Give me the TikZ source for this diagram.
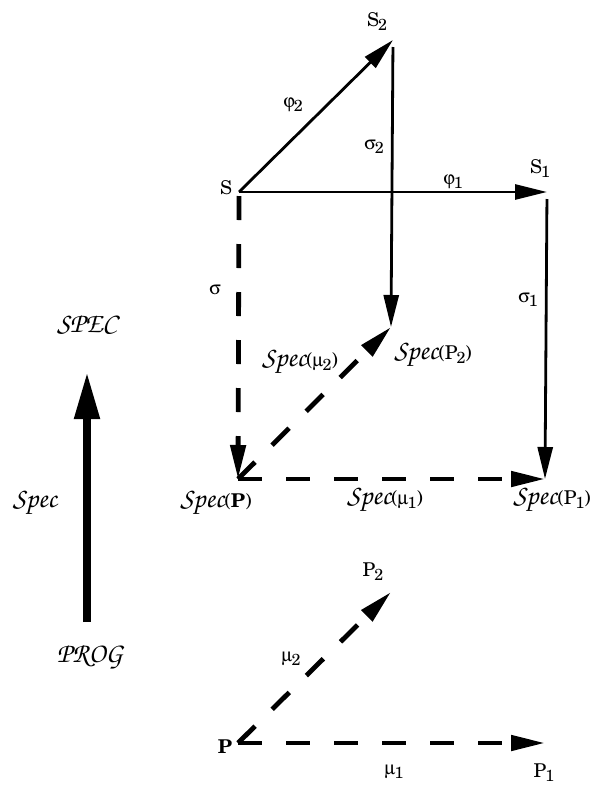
\documentclass[tikz,border=0pt]{standalone}
\usepackage[TU,T1]{fontenc}
\renewcommand{\rmdefault}{pnc}
\usepackage[Symbol]{upgreek}
\usepackage{tikz}
\usetikzlibrary{positioning, arrows.meta}
\newcommand{\chan}[1]{{\fontfamily{pzc}\fontseries{mb}\fontshape{it}\fontsize{28}{30}\selectfont #1}}
\newcommand{\sub}[1]{\kern-1pt\raisebox{-0.45ex}{\fontsize{16}{16}\selectfont #1}}

\begin{document}
\begin{tikzpicture}[x=1pt,y=-1pt,
  lbl/.style={font=\fontsize{19}{24}\selectfont,inner sep=0pt},
  arr/.style={line width=2.8pt,-{Triangle[length=32pt,width=15pt]}},
  darr/.style={line width=4.8pt,dash pattern=on 24pt off 24pt,
               -{Triangle[length=34pt,width=15pt]}},
  fat/.style={line width=8pt,-{Triangle[length=47pt,width=24pt]}},
  >=Stealth]
  \useasboundingbox (0,0) rectangle (596,785);
  % specification square
  \coordinate (S) at (239,192);
  \coordinate (S1) at (547,192);
  \coordinate (S2) at (393,40);
  \coordinate (SP) at (238,479);
  \coordinate (SP1) at (545,479);
  \coordinate (SP2) at (391,327);
  % program level
  \coordinate (P) at (238,743);
  \coordinate (P1) at (545,743);
  \coordinate (P2) at (391,592);
  % the Spec functor
  \coordinate (prog) at (87,622);
  \coordinate (spec) at (87,372);

  \node[lbl] (lS) at (226,188) {S};
  \node[lbl] (lS1) at (540,169) {S\sub{1}};
  \node[lbl] (lS2) at (377,22) {S\sub{2}};
  \node[lbl] (lSP) at (216,503) {\chan{Spec}(\textbf{P})};
  \node[lbl] (lSP1) at (552,500) {\chan{Spec}(P\sub{1})};
  \node[lbl] (lSP2) at (433,355) {\chan{Spec}(P\sub{2})};
  \node[lbl] (lP) at (225,747) {\textbf{P}};
  \node[lbl] (lP1) at (544,773) {P\sub{1}};
  \node[lbl] (lP2) at (373,572) {P\sub{2}};
  \node[lbl] (lspec) at (87,325) {\chan{SPEC}};
  \node[lbl] (lprog) at (90,657) {\chan{PROG}};

  \draw[arr] (S) -- (S1);
  \draw[arr] (S) -- (S2);
  \draw[arr,shorten <=7pt] (S2) -- (SP2);
  \draw[arr,shorten <=7pt] (S1) -- (SP1);
  \draw[darr,shorten <=4pt] (S) -- (SP);
  \draw[darr] (SP) -- (SP1);
  \draw[darr] (SP) -- (SP2);
  \draw[darr] (P) -- (P1);
  \draw[darr] (P) -- (P2);
  \draw[fat] (prog) -- (spec);

  % arrow labels
  \node[lbl] at (293,105) {$\upvarphi$\sub{2}};
  \node[lbl] at (453,182) {$\upvarphi$\sub{1}};
  \node[lbl] at (374,147) {$\upsigma$\sub{2}};
  \node[lbl] at (215,290) {$\upsigma$};
  \node[lbl] at (528,300) {$\upsigma$\sub{1}};
  \node[lbl] at (300,362) {\chan{Spec}($\upmu$\sub{2})};
  \node[lbl] at (385,500) {\chan{Spec}($\upmu$\sub{1})};
  \node[lbl] at (291,659) {$\upmu$\sub{2}};
  \node[lbl] at (394,772) {$\upmu$\sub{1}};
  \node[lbl] at (35,503) {\chan{Spec}};
\end{tikzpicture}
\end{document}
